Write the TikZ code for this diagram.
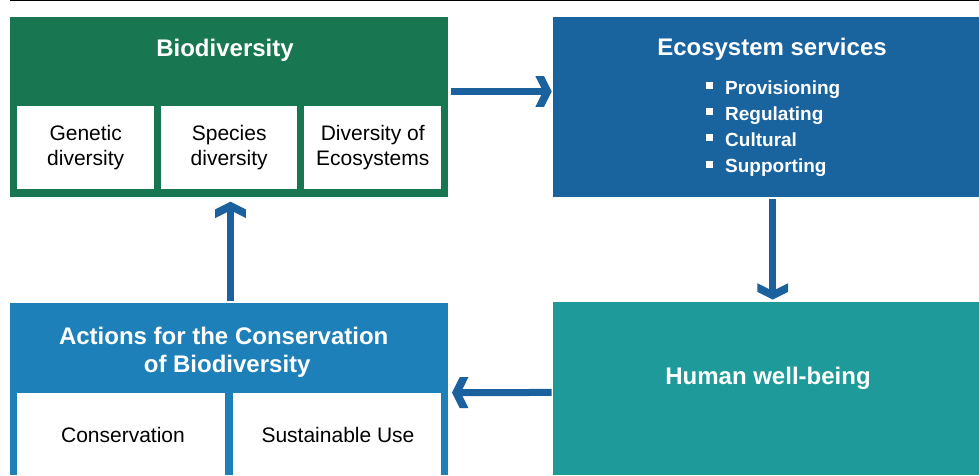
\documentclass[tikz,border=0pt]{standalone}
\usepackage{fontspec}
\setmainfont{Liberation Sans}
\usetikzlibrary{arrows.meta}
\definecolor{biogreen}{RGB}{24,119,80}
\definecolor{ecoblue}{RGB}{25,99,159}
\definecolor{actblue}{RGB}{30,128,184}
\definecolor{hwbteal}{RGB}{30,154,155}
\definecolor{arrblue}{RGB}{26,97,158}
\pgfdeclarearrow{
  name = Chev,
  setup code = {
    \pgfarrowssettipend{0pt}
    \pgfarrowssetbackend{-16.7pt}
    \pgfarrowssetlineend{-6pt}
  },
  drawing code = {
    \pgfpathmoveto{\pgfpoint{0pt}{0pt}}
    \pgfpathlineto{\pgfpoint{-7.7pt}{15.4pt}}
    \pgfpathlineto{\pgfpoint{-16.4pt}{15.4pt}}
    \pgfpathlineto{\pgfpoint{-8.7pt}{0pt}}
    \pgfpathlineto{\pgfpoint{-16.4pt}{-15.4pt}}
    \pgfpathlineto{\pgfpoint{-7.7pt}{-15.4pt}}
    \pgfpathclose
    \pgfusepathqfill
  }
}
\begin{document}
\begin{tikzpicture}[x=1pt,y=1pt,
  panel/.style={inner sep=0, anchor=south west},
  subbox/.style={fill=white, inner sep=0, anchor=south west},
  ttl/.style={text=white, font=\fontsize{24}{28.7}\selectfont\bfseries, align=center, inner sep=0},
  lst/.style={text=white, font=\fontsize{19}{24}\selectfont\bfseries, inner sep=0, anchor=base west},
  sub/.style={text=black, font=\fontsize{21}{25}\selectfont, align=center, inner sep=0},
  arr/.style={draw=arrblue, fill=arrblue, line width=7pt, -{Chev}}
]
\useasboundingbox (0,0) rectangle (979,475);
\draw[line width=1.3pt] (10,474.2) -- (979,474.2);

% panels
\node[panel, fill=biogreen, minimum width=437.7pt, minimum height=180pt] (bio) at (10,278) {};
\node[panel, fill=ecoblue, minimum width=426pt, minimum height=180pt] (eco) at (553,278) {};
\node[panel, fill=hwbteal, minimum width=426pt, minimum height=172.7pt] (hwb) at (553,0) {};
\node[panel, fill=actblue, minimum width=437.7pt, minimum height=172.3pt] (act) at (10,0) {};

% biodiversity
\node[ttl, anchor=base] (biot) at (225,418.3) {Biodiversity};
\node[subbox, minimum width=137pt, minimum height=83pt] (gen) at (17,286) {};
\node[subbox, minimum width=136pt, minimum height=83pt] (spe) at (161,286) {};
\node[subbox, minimum width=137pt, minimum height=83pt] (eci) at (304,286) {};
\node[sub] (gent) at (gen.center) {Genetic\\diversity};
\node[sub] (spet) at (spe.center) {Species\\diversity};
\node[sub] (ecit) at (eci.center) {Diversity of\\Ecosystems};

% ecosystem services
\node[ttl, anchor=base] (ecot) at (772,419) {Ecosystem services};
\foreach \y/\t [count=\i] in {381/Provisioning,355/Regulating,329/Cultural,302.7/Supporting}{
  \node[lst] (it\i) at (705.5,\y) {\rule[4.8pt]{6.8pt}{6.8pt}\hspace{12.7pt}\t};
}

% human well-being
\node[ttl, anchor=base] (hwbt) at (768,90.5) {Human well-being};

% actions
\node[ttl] (actt) at (223.7,122.8) {Actions for the Conservation\\\hspace*{7pt}of Biodiversity};
\node[subbox, minimum width=208pt, minimum height=82.3pt] (cons) at (17,0) {};
\node[subbox, minimum width=208pt, minimum height=82.3pt] (sust) at (232.7,0) {};
\node[sub, anchor=base] (const) at (123,32.7) {Conservation};
\node[sub, anchor=base] (sustt) at (338,32.7) {Sustainable Use};

% arrows
\draw[arr] ([xshift=3pt,yshift=15.3pt]bio.east) -- ([xshift=-1.3pt,yshift=15.3pt]eco.west);
\draw[arr] ([xshift=6.5pt,yshift=-2pt]eco.south) -- ([xshift=6.5pt,yshift=2.3pt]hwb.north);
\draw[arr] ([xshift=-1.3pt,yshift=-4pt]hwb.west) -- ([xshift=3.9pt,yshift=-4pt]act.east);
\draw[arr] ([xshift=1.5pt,yshift=1.5pt]act.north) -- ([xshift=1.5pt,yshift=-4.7pt]bio.south);
\end{tikzpicture}
\end{document}
